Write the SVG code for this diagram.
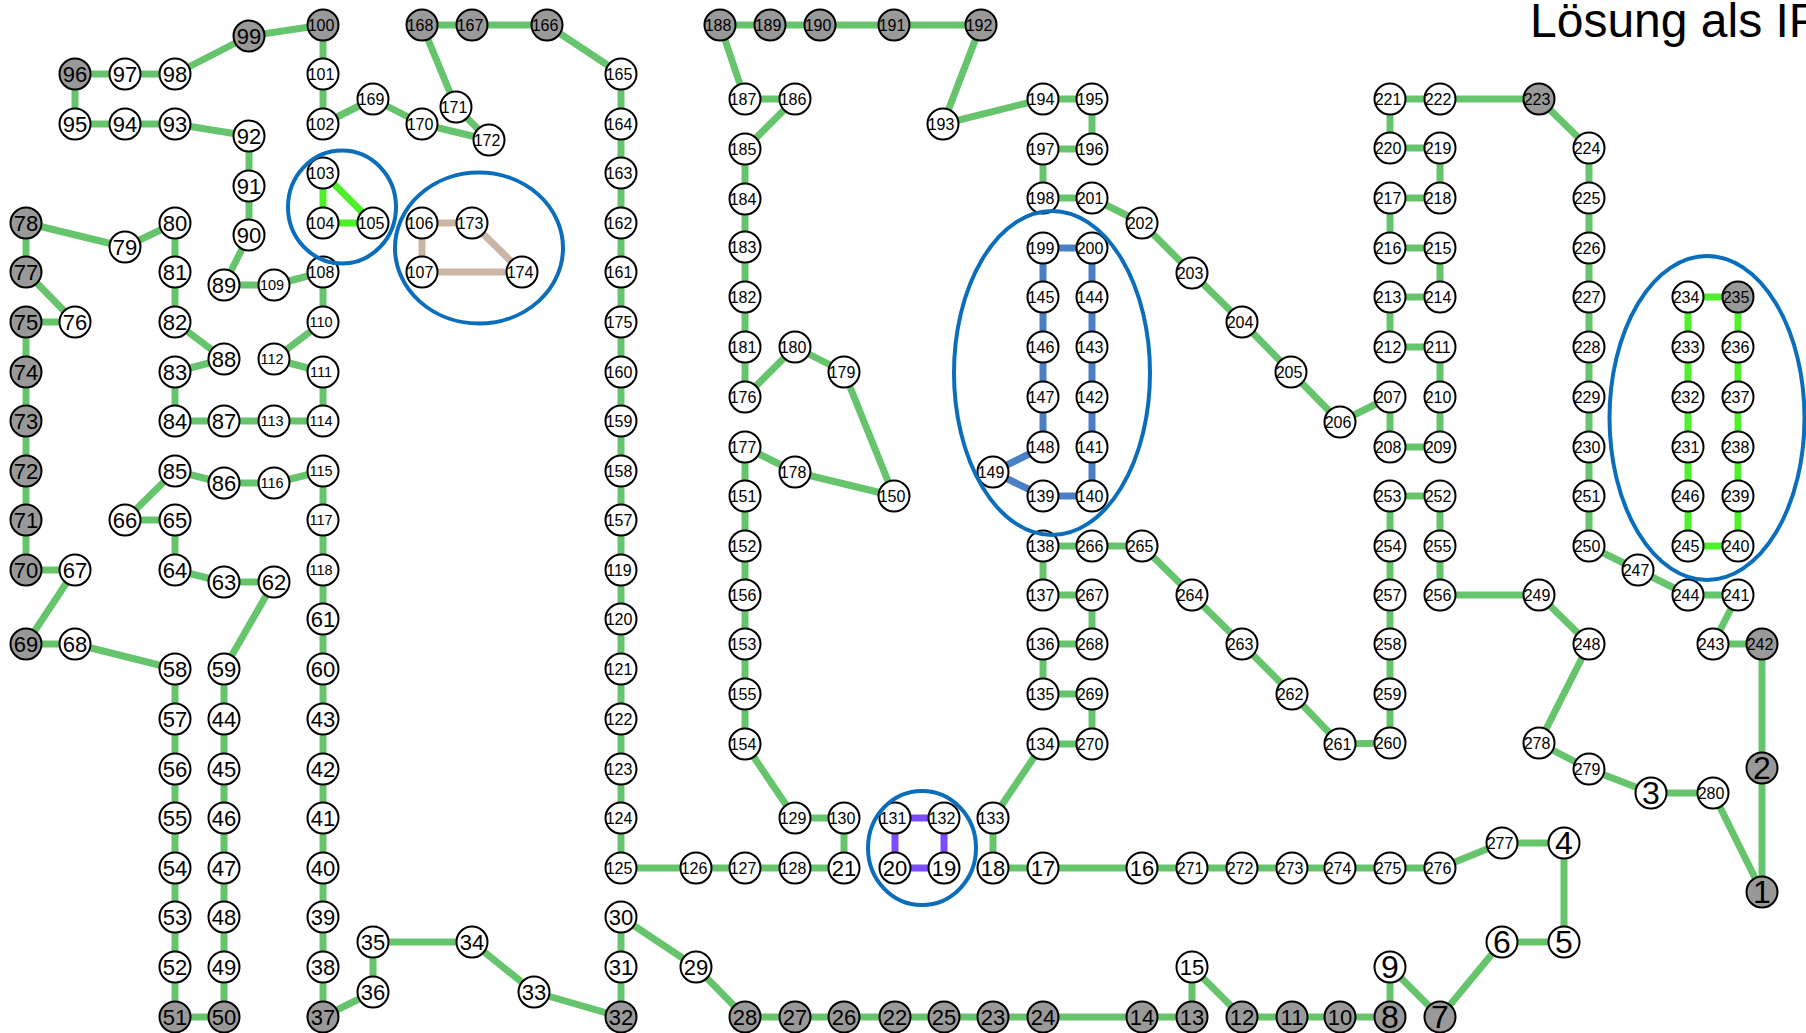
<svg xmlns="http://www.w3.org/2000/svg" width="1806" height="1033" viewBox="0 0 1806 1033">
<style>
.e{fill:none;stroke:#66c56c;stroke-width:7;stroke-linejoin:round;stroke-linecap:round}
.eb{stroke:#4b7fc5}
.ep{stroke:#7b4dff}
.ebg{stroke:#4df02b}
.ebe{stroke:#c9b6a6}
.node circle{fill:#fff;stroke:#000;stroke-width:2}
.node.gr circle{fill:#999}
text{font-family:"Liberation Sans",Arial,sans-serif;text-anchor:middle;dominant-baseline:central;fill:#000}
.s1 text{font-size:32px}.s2 text{font-size:22px}.s3 text{font-size:16px}.s4 text{font-size:14.5px}
.ell{fill:none;stroke:#0a6ebd;stroke-width:4}
.title{font-size:48px;text-anchor:start;dominant-baseline:auto}
</style>
<rect width="1806" height="1033" fill="#fff"/>
<text class="title" x="1530" y="37">Lösung als IP</text>
<g id="connectors">
<polyline class="e" points="1762,892 1762,768 1762,644 1713,644 1738,595 1688,595 1638,570 1589,546 1589,496 1589,447 1589,397 1589,347 1589,297 1589,248 1589,198 1589,148 1539,99 1440,99 1390,99 1390,148 1440,148 1440,198 1390,198 1390,248 1440,248 1440,297 1390,297 1390,347 1440,347 1440,397 1440,447 1390,447 1390,397 1340,422 1291,372 1242,322 1192,273 1142,223 1092,198 1043,198 1043,149 1092,149 1092,99 1043,99 943,124 981,25 894,25 820,25 770,25 720,25 745,99 795,99 745,149 745,199 745,247 745,297 745,347 745,397 795,347 844,372 894,496 795,472 745,447 745,496 745,546 745,595 745,644 745,694 745,744 795,818 844,818 844,868 795,868 745,868 696,868 621,868 621,818 621,769 621,719 621,669 621,619 621,570 621,520 621,471 621,421 621,372 621,322 621,272 621,223 621,173 621,124 621,74 547,25 472,25 422,25 456,107 489,140 422,124 373,99 323,124 323,74 323,25 249,36 175,74 125,74 75,74 75,124 125,124 175,124 249,136 249,186 249,235 224,285 274,285 323,272 323,322 274,359 323,372 323,421 274,421 224,421 175,421 175,372 224,359 175,322 175,272 175,223 125,247 26,223 26,272 75,322 26,322 26,372 26,421 26,471 26,520 26,570 75,570 26,644 75,644 175,669 175,719 175,769 175,818 175,868 175,917 175,967 175,1017 224,1017 224,967 224,917 224,868 224,818 224,769 224,719 224,669 274,582 224,582 175,570 175,520 125,520 175,471 224,483 274,483 323,471 323,520 323,570 323,619 323,669 323,719 323,769 323,818 323,868 323,917 323,967 323,1017 373,992 373,942 472,942 534,992 621,1017 621,967 621,917 696,967 745,1017 795,1017 844,1017 895,1017 944,1017 993,1017 1043,1017 1142,1017 1192,1017 1192,967 1242,1017 1292,1017 1340,1017 1390,1017 1390,967 1440,1017 1502,942 1564,942 1564,843 1502,843 1440,868 1390,868 1340,868 1292,868 1242,868 1192,868 1142,868 1043,868 993,868 993,818 1043,744 1092,744 1092,694 1043,694 1043,644 1092,644 1092,595 1043,595 1043,546 1092,546 1142,546 1192,595 1242,644 1292,694 1340,744 1390,743 1390,694 1390,644 1390,595 1390,546 1390,496 1440,496 1440,546 1440,595 1539,595 1589,644 1539,743 1589,769 1651,793 1713,793 1762,892"/>
<polygon class="e ebg" points="323,173 323,223 373,223"/>
<polygon class="e ebe" points="422,223 472,223 522,272 422,272"/>
<polygon class="e eb" points="1043,248 1092,248 1092,297 1092,347 1092,397 1092,447 1092,496 1043,496 993,472 1043,447 1043,397 1043,347 1043,297"/>
<polygon class="e ep" points="895,818 944,818 944,868 895,868"/>
<polygon class="e ebg" points="1688,297 1738,297 1738,347 1738,397 1738,447 1738,496 1738,546 1688,546 1688,496 1688,447 1688,397 1688,347"/>
</g>
<g id="nodes">
<g id="n1" class="node gr s1"><circle cx="1762" cy="892" r="15.5"/><text x="1762" y="892">1</text></g>
<g id="n2" class="node gr s1"><circle cx="1762" cy="768" r="15.5"/><text x="1762" y="768">2</text></g>
<g id="n3" class="node s1"><circle cx="1651" cy="793" r="15.5"/><text x="1651" y="793">3</text></g>
<g id="n4" class="node s1"><circle cx="1564" cy="843" r="15.5"/><text x="1564" y="843">4</text></g>
<g id="n5" class="node s1"><circle cx="1564" cy="942" r="15.5"/><text x="1564" y="942">5</text></g>
<g id="n6" class="node s1"><circle cx="1502" cy="942" r="15.5"/><text x="1502" y="942">6</text></g>
<g id="n7" class="node gr s1"><circle cx="1440" cy="1017" r="15.5"/><text x="1440" y="1017">7</text></g>
<g id="n8" class="node gr s1"><circle cx="1390" cy="1017" r="15.5"/><text x="1390" y="1017">8</text></g>
<g id="n9" class="node s1"><circle cx="1390" cy="967" r="15.5"/><text x="1390" y="967">9</text></g>
<g id="n10" class="node gr s2"><circle cx="1340" cy="1017" r="15.5"/><text x="1340" y="1017">10</text></g>
<g id="n11" class="node gr s2"><circle cx="1292" cy="1017" r="15.5"/><text x="1292" y="1017">11</text></g>
<g id="n12" class="node gr s2"><circle cx="1242" cy="1017" r="15.5"/><text x="1242" y="1017">12</text></g>
<g id="n13" class="node gr s2"><circle cx="1192" cy="1017" r="15.5"/><text x="1192" y="1017">13</text></g>
<g id="n14" class="node gr s2"><circle cx="1142" cy="1017" r="15.5"/><text x="1142" y="1017">14</text></g>
<g id="n15" class="node s2"><circle cx="1192" cy="967" r="15.5"/><text x="1192" y="967">15</text></g>
<g id="n16" class="node s2"><circle cx="1142" cy="868" r="15.5"/><text x="1142" y="868">16</text></g>
<g id="n17" class="node s2"><circle cx="1043" cy="868" r="15.5"/><text x="1043" y="868">17</text></g>
<g id="n18" class="node s2"><circle cx="993" cy="868" r="15.5"/><text x="993" y="868">18</text></g>
<g id="n19" class="node s2"><circle cx="944" cy="868" r="15.5"/><text x="944" y="868">19</text></g>
<g id="n20" class="node s2"><circle cx="895" cy="868" r="15.5"/><text x="895" y="868">20</text></g>
<g id="n21" class="node s2"><circle cx="844" cy="868" r="15.5"/><text x="844" y="868">21</text></g>
<g id="n22" class="node gr s2"><circle cx="895" cy="1017" r="15.5"/><text x="895" y="1017">22</text></g>
<g id="n23" class="node gr s2"><circle cx="993" cy="1017" r="15.5"/><text x="993" y="1017">23</text></g>
<g id="n24" class="node gr s2"><circle cx="1043" cy="1017" r="15.5"/><text x="1043" y="1017">24</text></g>
<g id="n25" class="node gr s2"><circle cx="944" cy="1017" r="15.5"/><text x="944" y="1017">25</text></g>
<g id="n26" class="node gr s2"><circle cx="844" cy="1017" r="15.5"/><text x="844" y="1017">26</text></g>
<g id="n27" class="node gr s2"><circle cx="795" cy="1017" r="15.5"/><text x="795" y="1017">27</text></g>
<g id="n28" class="node gr s2"><circle cx="745" cy="1017" r="15.5"/><text x="745" y="1017">28</text></g>
<g id="n29" class="node s2"><circle cx="696" cy="967" r="15.5"/><text x="696" y="967">29</text></g>
<g id="n30" class="node s2"><circle cx="621" cy="917" r="15.5"/><text x="621" y="917">30</text></g>
<g id="n31" class="node s2"><circle cx="621" cy="967" r="15.5"/><text x="621" y="967">31</text></g>
<g id="n32" class="node gr s2"><circle cx="621" cy="1017" r="15.5"/><text x="621" y="1017">32</text></g>
<g id="n33" class="node s2"><circle cx="534" cy="992" r="15.5"/><text x="534" y="992">33</text></g>
<g id="n34" class="node s2"><circle cx="472" cy="942" r="15.5"/><text x="472" y="942">34</text></g>
<g id="n35" class="node s2"><circle cx="373" cy="942" r="15.5"/><text x="373" y="942">35</text></g>
<g id="n36" class="node s2"><circle cx="373" cy="992" r="15.5"/><text x="373" y="992">36</text></g>
<g id="n37" class="node gr s2"><circle cx="323" cy="1017" r="15.5"/><text x="323" y="1017">37</text></g>
<g id="n38" class="node s2"><circle cx="323" cy="967" r="15.5"/><text x="323" y="967">38</text></g>
<g id="n39" class="node s2"><circle cx="323" cy="917" r="15.5"/><text x="323" y="917">39</text></g>
<g id="n40" class="node s2"><circle cx="323" cy="868" r="15.5"/><text x="323" y="868">40</text></g>
<g id="n41" class="node s2"><circle cx="323" cy="818" r="15.5"/><text x="323" y="818">41</text></g>
<g id="n42" class="node s2"><circle cx="323" cy="769" r="15.5"/><text x="323" y="769">42</text></g>
<g id="n43" class="node s2"><circle cx="323" cy="719" r="15.5"/><text x="323" y="719">43</text></g>
<g id="n44" class="node s2"><circle cx="224" cy="719" r="15.5"/><text x="224" y="719">44</text></g>
<g id="n45" class="node s2"><circle cx="224" cy="769" r="15.5"/><text x="224" y="769">45</text></g>
<g id="n46" class="node s2"><circle cx="224" cy="818" r="15.5"/><text x="224" y="818">46</text></g>
<g id="n47" class="node s2"><circle cx="224" cy="868" r="15.5"/><text x="224" y="868">47</text></g>
<g id="n48" class="node s2"><circle cx="224" cy="917" r="15.5"/><text x="224" y="917">48</text></g>
<g id="n49" class="node s2"><circle cx="224" cy="967" r="15.5"/><text x="224" y="967">49</text></g>
<g id="n50" class="node gr s2"><circle cx="224" cy="1017" r="15.5"/><text x="224" y="1017">50</text></g>
<g id="n51" class="node gr s2"><circle cx="175" cy="1017" r="15.5"/><text x="175" y="1017">51</text></g>
<g id="n52" class="node s2"><circle cx="175" cy="967" r="15.5"/><text x="175" y="967">52</text></g>
<g id="n53" class="node s2"><circle cx="175" cy="917" r="15.5"/><text x="175" y="917">53</text></g>
<g id="n54" class="node s2"><circle cx="175" cy="868" r="15.5"/><text x="175" y="868">54</text></g>
<g id="n55" class="node s2"><circle cx="175" cy="818" r="15.5"/><text x="175" y="818">55</text></g>
<g id="n56" class="node s2"><circle cx="175" cy="769" r="15.5"/><text x="175" y="769">56</text></g>
<g id="n57" class="node s2"><circle cx="175" cy="719" r="15.5"/><text x="175" y="719">57</text></g>
<g id="n58" class="node s2"><circle cx="175" cy="669" r="15.5"/><text x="175" y="669">58</text></g>
<g id="n59" class="node s2"><circle cx="224" cy="669" r="15.5"/><text x="224" y="669">59</text></g>
<g id="n60" class="node s2"><circle cx="323" cy="669" r="15.5"/><text x="323" y="669">60</text></g>
<g id="n61" class="node s2"><circle cx="323" cy="619" r="15.5"/><text x="323" y="619">61</text></g>
<g id="n62" class="node s2"><circle cx="274" cy="582" r="15.5"/><text x="274" y="582">62</text></g>
<g id="n63" class="node s2"><circle cx="224" cy="582" r="15.5"/><text x="224" y="582">63</text></g>
<g id="n64" class="node s2"><circle cx="175" cy="570" r="15.5"/><text x="175" y="570">64</text></g>
<g id="n65" class="node s2"><circle cx="175" cy="520" r="15.5"/><text x="175" y="520">65</text></g>
<g id="n66" class="node s2"><circle cx="125" cy="520" r="15.5"/><text x="125" y="520">66</text></g>
<g id="n67" class="node s2"><circle cx="75" cy="570" r="15.5"/><text x="75" y="570">67</text></g>
<g id="n68" class="node s2"><circle cx="75" cy="644" r="15.5"/><text x="75" y="644">68</text></g>
<g id="n69" class="node gr s2"><circle cx="26" cy="644" r="15.5"/><text x="26" y="644">69</text></g>
<g id="n70" class="node gr s2"><circle cx="26" cy="570" r="15.5"/><text x="26" y="570">70</text></g>
<g id="n71" class="node gr s2"><circle cx="26" cy="520" r="15.5"/><text x="26" y="520">71</text></g>
<g id="n72" class="node gr s2"><circle cx="26" cy="471" r="15.5"/><text x="26" y="471">72</text></g>
<g id="n73" class="node gr s2"><circle cx="26" cy="421" r="15.5"/><text x="26" y="421">73</text></g>
<g id="n74" class="node gr s2"><circle cx="26" cy="372" r="15.5"/><text x="26" y="372">74</text></g>
<g id="n75" class="node gr s2"><circle cx="26" cy="322" r="15.5"/><text x="26" y="322">75</text></g>
<g id="n76" class="node s2"><circle cx="75" cy="322" r="15.5"/><text x="75" y="322">76</text></g>
<g id="n77" class="node gr s2"><circle cx="26" cy="272" r="15.5"/><text x="26" y="272">77</text></g>
<g id="n78" class="node gr s2"><circle cx="26" cy="223" r="15.5"/><text x="26" y="223">78</text></g>
<g id="n79" class="node s2"><circle cx="125" cy="247" r="15.5"/><text x="125" y="247">79</text></g>
<g id="n80" class="node s2"><circle cx="175" cy="223" r="15.5"/><text x="175" y="223">80</text></g>
<g id="n81" class="node s2"><circle cx="175" cy="272" r="15.5"/><text x="175" y="272">81</text></g>
<g id="n82" class="node s2"><circle cx="175" cy="322" r="15.5"/><text x="175" y="322">82</text></g>
<g id="n83" class="node s2"><circle cx="175" cy="372" r="15.5"/><text x="175" y="372">83</text></g>
<g id="n84" class="node s2"><circle cx="175" cy="421" r="15.5"/><text x="175" y="421">84</text></g>
<g id="n85" class="node s2"><circle cx="175" cy="471" r="15.5"/><text x="175" y="471">85</text></g>
<g id="n86" class="node s2"><circle cx="224" cy="483" r="15.5"/><text x="224" y="483">86</text></g>
<g id="n87" class="node s2"><circle cx="224" cy="421" r="15.5"/><text x="224" y="421">87</text></g>
<g id="n88" class="node s2"><circle cx="224" cy="359" r="15.5"/><text x="224" y="359">88</text></g>
<g id="n89" class="node s2"><circle cx="224" cy="285" r="15.5"/><text x="224" y="285">89</text></g>
<g id="n90" class="node s2"><circle cx="249" cy="235" r="15.5"/><text x="249" y="235">90</text></g>
<g id="n91" class="node s2"><circle cx="249" cy="186" r="15.5"/><text x="249" y="186">91</text></g>
<g id="n92" class="node s2"><circle cx="249" cy="136" r="15.5"/><text x="249" y="136">92</text></g>
<g id="n93" class="node s2"><circle cx="175" cy="124" r="15.5"/><text x="175" y="124">93</text></g>
<g id="n94" class="node s2"><circle cx="125" cy="124" r="15.5"/><text x="125" y="124">94</text></g>
<g id="n95" class="node s2"><circle cx="75" cy="124" r="15.5"/><text x="75" y="124">95</text></g>
<g id="n96" class="node gr s2"><circle cx="75" cy="74" r="15.5"/><text x="75" y="74">96</text></g>
<g id="n97" class="node s2"><circle cx="125" cy="74" r="15.5"/><text x="125" y="74">97</text></g>
<g id="n98" class="node s2"><circle cx="175" cy="74" r="15.5"/><text x="175" y="74">98</text></g>
<g id="n99" class="node gr s2"><circle cx="249" cy="36" r="15.5"/><text x="249" y="36">99</text></g>
<g id="n100" class="node gr s3"><circle cx="323" cy="25" r="15.5"/><text x="321" y="25">100</text></g>
<g id="n101" class="node s3"><circle cx="323" cy="74" r="15.5"/><text x="321" y="74">101</text></g>
<g id="n102" class="node s3"><circle cx="323" cy="124" r="15.5"/><text x="321" y="124">102</text></g>
<g id="n103" class="node s3"><circle cx="323" cy="173" r="15.5"/><text x="321" y="173">103</text></g>
<g id="n104" class="node s3"><circle cx="323" cy="223" r="15.5"/><text x="321" y="223">104</text></g>
<g id="n105" class="node s3"><circle cx="373" cy="223" r="15.5"/><text x="371" y="223">105</text></g>
<g id="n106" class="node s3"><circle cx="422" cy="223" r="15.5"/><text x="420" y="223">106</text></g>
<g id="n107" class="node s3"><circle cx="422" cy="272" r="15.5"/><text x="420" y="272">107</text></g>
<g id="n108" class="node s3"><circle cx="323" cy="272" r="15.5"/><text x="321" y="272">108</text></g>
<g id="n109" class="node s4"><circle cx="274" cy="285" r="15.5"/><text x="272" y="285">109</text></g>
<g id="n110" class="node s4"><circle cx="323" cy="322" r="15.5"/><text x="321" y="322">110</text></g>
<g id="n111" class="node s4"><circle cx="323" cy="372" r="15.5"/><text x="321" y="372">111</text></g>
<g id="n112" class="node s4"><circle cx="274" cy="359" r="15.5"/><text x="272" y="359">112</text></g>
<g id="n113" class="node s4"><circle cx="274" cy="421" r="15.5"/><text x="272" y="421">113</text></g>
<g id="n114" class="node s4"><circle cx="323" cy="421" r="15.5"/><text x="321" y="421">114</text></g>
<g id="n115" class="node s4"><circle cx="323" cy="471" r="15.5"/><text x="321" y="471">115</text></g>
<g id="n116" class="node s4"><circle cx="274" cy="483" r="15.5"/><text x="272" y="483">116</text></g>
<g id="n117" class="node s4"><circle cx="323" cy="520" r="15.5"/><text x="321" y="520">117</text></g>
<g id="n118" class="node s4"><circle cx="323" cy="570" r="15.5"/><text x="321" y="570">118</text></g>
<g id="n119" class="node s3"><circle cx="621" cy="570" r="15.5"/><text x="619" y="570">119</text></g>
<g id="n120" class="node s3"><circle cx="621" cy="619" r="15.5"/><text x="619" y="619">120</text></g>
<g id="n121" class="node s3"><circle cx="621" cy="669" r="15.5"/><text x="619" y="669">121</text></g>
<g id="n122" class="node s3"><circle cx="621" cy="719" r="15.5"/><text x="619" y="719">122</text></g>
<g id="n123" class="node s3"><circle cx="621" cy="769" r="15.5"/><text x="619" y="769">123</text></g>
<g id="n124" class="node s3"><circle cx="621" cy="818" r="15.5"/><text x="619" y="818">124</text></g>
<g id="n125" class="node s3"><circle cx="621" cy="868" r="15.5"/><text x="619" y="868">125</text></g>
<g id="n126" class="node s3"><circle cx="696" cy="868" r="15.5"/><text x="694" y="868">126</text></g>
<g id="n127" class="node s3"><circle cx="745" cy="868" r="15.5"/><text x="743" y="868">127</text></g>
<g id="n128" class="node s3"><circle cx="795" cy="868" r="15.5"/><text x="793" y="868">128</text></g>
<g id="n129" class="node s3"><circle cx="795" cy="818" r="15.5"/><text x="793" y="818">129</text></g>
<g id="n130" class="node s3"><circle cx="844" cy="818" r="15.5"/><text x="842" y="818">130</text></g>
<g id="n131" class="node s3"><circle cx="895" cy="818" r="15.5"/><text x="893" y="818">131</text></g>
<g id="n132" class="node s3"><circle cx="944" cy="818" r="15.5"/><text x="942" y="818">132</text></g>
<g id="n133" class="node s3"><circle cx="993" cy="818" r="15.5"/><text x="991" y="818">133</text></g>
<g id="n134" class="node s3"><circle cx="1043" cy="744" r="15.5"/><text x="1041" y="744">134</text></g>
<g id="n135" class="node s3"><circle cx="1043" cy="694" r="15.5"/><text x="1041" y="694">135</text></g>
<g id="n136" class="node s3"><circle cx="1043" cy="644" r="15.5"/><text x="1041" y="644">136</text></g>
<g id="n137" class="node s3"><circle cx="1043" cy="595" r="15.5"/><text x="1041" y="595">137</text></g>
<g id="n138" class="node s3"><circle cx="1043" cy="546" r="15.5"/><text x="1041" y="546">138</text></g>
<g id="n139" class="node s3"><circle cx="1043" cy="496" r="15.5"/><text x="1041" y="496">139</text></g>
<g id="n140" class="node s3"><circle cx="1092" cy="496" r="15.5"/><text x="1090" y="496">140</text></g>
<g id="n141" class="node s3"><circle cx="1092" cy="447" r="15.5"/><text x="1090" y="447">141</text></g>
<g id="n142" class="node s3"><circle cx="1092" cy="397" r="15.5"/><text x="1090" y="397">142</text></g>
<g id="n143" class="node s3"><circle cx="1092" cy="347" r="15.5"/><text x="1090" y="347">143</text></g>
<g id="n144" class="node s3"><circle cx="1092" cy="297" r="15.5"/><text x="1090" y="297">144</text></g>
<g id="n145" class="node s3"><circle cx="1043" cy="297" r="15.5"/><text x="1041" y="297">145</text></g>
<g id="n146" class="node s3"><circle cx="1043" cy="347" r="15.5"/><text x="1041" y="347">146</text></g>
<g id="n147" class="node s3"><circle cx="1043" cy="397" r="15.5"/><text x="1041" y="397">147</text></g>
<g id="n148" class="node s3"><circle cx="1043" cy="447" r="15.5"/><text x="1041" y="447">148</text></g>
<g id="n149" class="node s3"><circle cx="993" cy="472" r="15.5"/><text x="991" y="472">149</text></g>
<g id="n150" class="node s3"><circle cx="894" cy="496" r="15.5"/><text x="892" y="496">150</text></g>
<g id="n151" class="node s3"><circle cx="745" cy="496" r="15.5"/><text x="743" y="496">151</text></g>
<g id="n152" class="node s3"><circle cx="745" cy="546" r="15.5"/><text x="743" y="546">152</text></g>
<g id="n153" class="node s3"><circle cx="745" cy="644" r="15.5"/><text x="743" y="644">153</text></g>
<g id="n154" class="node s3"><circle cx="745" cy="744" r="15.5"/><text x="743" y="744">154</text></g>
<g id="n155" class="node s3"><circle cx="745" cy="694" r="15.5"/><text x="743" y="694">155</text></g>
<g id="n156" class="node s3"><circle cx="745" cy="595" r="15.5"/><text x="743" y="595">156</text></g>
<g id="n157" class="node s3"><circle cx="621" cy="520" r="15.5"/><text x="619" y="520">157</text></g>
<g id="n158" class="node s3"><circle cx="621" cy="471" r="15.5"/><text x="619" y="471">158</text></g>
<g id="n159" class="node s3"><circle cx="621" cy="421" r="15.5"/><text x="619" y="421">159</text></g>
<g id="n160" class="node s3"><circle cx="621" cy="372" r="15.5"/><text x="619" y="372">160</text></g>
<g id="n161" class="node s3"><circle cx="621" cy="272" r="15.5"/><text x="619" y="272">161</text></g>
<g id="n162" class="node s3"><circle cx="621" cy="223" r="15.5"/><text x="619" y="223">162</text></g>
<g id="n163" class="node s3"><circle cx="621" cy="173" r="15.5"/><text x="619" y="173">163</text></g>
<g id="n164" class="node s3"><circle cx="621" cy="124" r="15.5"/><text x="619" y="124">164</text></g>
<g id="n165" class="node s3"><circle cx="621" cy="74" r="15.5"/><text x="619" y="74">165</text></g>
<g id="n166" class="node gr s3"><circle cx="547" cy="25" r="15.5"/><text x="545" y="25">166</text></g>
<g id="n167" class="node gr s3"><circle cx="472" cy="25" r="15.5"/><text x="470" y="25">167</text></g>
<g id="n168" class="node gr s3"><circle cx="422" cy="25" r="15.5"/><text x="420" y="25">168</text></g>
<g id="n169" class="node s3"><circle cx="373" cy="99" r="15.5"/><text x="371" y="99">169</text></g>
<g id="n170" class="node s3"><circle cx="422" cy="124" r="15.5"/><text x="420" y="124">170</text></g>
<g id="n171" class="node s3"><circle cx="456" cy="107" r="15.5"/><text x="454" y="107">171</text></g>
<g id="n172" class="node s3"><circle cx="489" cy="140" r="15.5"/><text x="487" y="140">172</text></g>
<g id="n173" class="node s3"><circle cx="472" cy="223" r="15.5"/><text x="470" y="223">173</text></g>
<g id="n174" class="node s3"><circle cx="522" cy="272" r="15.5"/><text x="520" y="272">174</text></g>
<g id="n175" class="node s3"><circle cx="621" cy="322" r="15.5"/><text x="619" y="322">175</text></g>
<g id="n176" class="node s3"><circle cx="745" cy="397" r="15.5"/><text x="743" y="397">176</text></g>
<g id="n177" class="node s3"><circle cx="745" cy="447" r="15.5"/><text x="743" y="447">177</text></g>
<g id="n178" class="node s3"><circle cx="795" cy="472" r="15.5"/><text x="793" y="472">178</text></g>
<g id="n179" class="node s3"><circle cx="844" cy="372" r="15.5"/><text x="842" y="372">179</text></g>
<g id="n180" class="node s3"><circle cx="795" cy="347" r="15.5"/><text x="793" y="347">180</text></g>
<g id="n181" class="node s3"><circle cx="745" cy="347" r="15.5"/><text x="743" y="347">181</text></g>
<g id="n182" class="node s3"><circle cx="745" cy="297" r="15.5"/><text x="743" y="297">182</text></g>
<g id="n183" class="node s3"><circle cx="745" cy="247" r="15.5"/><text x="743" y="247">183</text></g>
<g id="n184" class="node s3"><circle cx="745" cy="199" r="15.5"/><text x="743" y="199">184</text></g>
<g id="n185" class="node s3"><circle cx="745" cy="149" r="15.5"/><text x="743" y="149">185</text></g>
<g id="n186" class="node s3"><circle cx="795" cy="99" r="15.5"/><text x="793" y="99">186</text></g>
<g id="n187" class="node s3"><circle cx="745" cy="99" r="15.5"/><text x="743" y="99">187</text></g>
<g id="n188" class="node gr s3"><circle cx="720" cy="25" r="15.5"/><text x="718" y="25">188</text></g>
<g id="n189" class="node gr s3"><circle cx="770" cy="25" r="15.5"/><text x="768" y="25">189</text></g>
<g id="n190" class="node gr s3"><circle cx="820" cy="25" r="15.5"/><text x="818" y="25">190</text></g>
<g id="n191" class="node gr s3"><circle cx="894" cy="25" r="15.5"/><text x="892" y="25">191</text></g>
<g id="n192" class="node gr s3"><circle cx="981" cy="25" r="15.5"/><text x="979" y="25">192</text></g>
<g id="n193" class="node s3"><circle cx="943" cy="124" r="15.5"/><text x="941" y="124">193</text></g>
<g id="n194" class="node s3"><circle cx="1043" cy="99" r="15.5"/><text x="1041" y="99">194</text></g>
<g id="n195" class="node s3"><circle cx="1092" cy="99" r="15.5"/><text x="1090" y="99">195</text></g>
<g id="n196" class="node s3"><circle cx="1092" cy="149" r="15.5"/><text x="1090" y="149">196</text></g>
<g id="n197" class="node s3"><circle cx="1043" cy="149" r="15.5"/><text x="1041" y="149">197</text></g>
<g id="n198" class="node s3"><circle cx="1043" cy="198" r="15.5"/><text x="1041" y="198">198</text></g>
<g id="n199" class="node s3"><circle cx="1043" cy="248" r="15.5"/><text x="1041" y="248">199</text></g>
<g id="n200" class="node s3"><circle cx="1092" cy="248" r="15.5"/><text x="1090" y="248">200</text></g>
<g id="n201" class="node s3"><circle cx="1092" cy="198" r="15.5"/><text x="1090" y="198">201</text></g>
<g id="n202" class="node s3"><circle cx="1142" cy="223" r="15.5"/><text x="1140" y="223">202</text></g>
<g id="n203" class="node s3"><circle cx="1192" cy="273" r="15.5"/><text x="1190" y="273">203</text></g>
<g id="n204" class="node s3"><circle cx="1242" cy="322" r="15.5"/><text x="1240" y="322">204</text></g>
<g id="n205" class="node s3"><circle cx="1291" cy="372" r="15.5"/><text x="1289" y="372">205</text></g>
<g id="n206" class="node s3"><circle cx="1340" cy="422" r="15.5"/><text x="1338" y="422">206</text></g>
<g id="n207" class="node s3"><circle cx="1390" cy="397" r="15.5"/><text x="1388" y="397">207</text></g>
<g id="n208" class="node s3"><circle cx="1390" cy="447" r="15.5"/><text x="1388" y="447">208</text></g>
<g id="n209" class="node s3"><circle cx="1440" cy="447" r="15.5"/><text x="1438" y="447">209</text></g>
<g id="n210" class="node s3"><circle cx="1440" cy="397" r="15.5"/><text x="1438" y="397">210</text></g>
<g id="n211" class="node s3"><circle cx="1440" cy="347" r="15.5"/><text x="1438" y="347">211</text></g>
<g id="n212" class="node s3"><circle cx="1390" cy="347" r="15.5"/><text x="1388" y="347">212</text></g>
<g id="n213" class="node s3"><circle cx="1390" cy="297" r="15.5"/><text x="1388" y="297">213</text></g>
<g id="n214" class="node s3"><circle cx="1440" cy="297" r="15.5"/><text x="1438" y="297">214</text></g>
<g id="n215" class="node s3"><circle cx="1440" cy="248" r="15.5"/><text x="1438" y="248">215</text></g>
<g id="n216" class="node s3"><circle cx="1390" cy="248" r="15.5"/><text x="1388" y="248">216</text></g>
<g id="n217" class="node s3"><circle cx="1390" cy="198" r="15.5"/><text x="1388" y="198">217</text></g>
<g id="n218" class="node s3"><circle cx="1440" cy="198" r="15.5"/><text x="1438" y="198">218</text></g>
<g id="n219" class="node s3"><circle cx="1440" cy="148" r="15.5"/><text x="1438" y="148">219</text></g>
<g id="n220" class="node s3"><circle cx="1390" cy="148" r="15.5"/><text x="1388" y="148">220</text></g>
<g id="n221" class="node s3"><circle cx="1390" cy="99" r="15.5"/><text x="1388" y="99">221</text></g>
<g id="n222" class="node s3"><circle cx="1440" cy="99" r="15.5"/><text x="1438" y="99">222</text></g>
<g id="n223" class="node gr s3"><circle cx="1539" cy="99" r="15.5"/><text x="1537" y="99">223</text></g>
<g id="n224" class="node s3"><circle cx="1589" cy="148" r="15.5"/><text x="1587" y="148">224</text></g>
<g id="n225" class="node s3"><circle cx="1589" cy="198" r="15.5"/><text x="1587" y="198">225</text></g>
<g id="n226" class="node s3"><circle cx="1589" cy="248" r="15.5"/><text x="1587" y="248">226</text></g>
<g id="n227" class="node s3"><circle cx="1589" cy="297" r="15.5"/><text x="1587" y="297">227</text></g>
<g id="n228" class="node s3"><circle cx="1589" cy="347" r="15.5"/><text x="1587" y="347">228</text></g>
<g id="n229" class="node s3"><circle cx="1589" cy="397" r="15.5"/><text x="1587" y="397">229</text></g>
<g id="n230" class="node s3"><circle cx="1589" cy="447" r="15.5"/><text x="1587" y="447">230</text></g>
<g id="n231" class="node s3"><circle cx="1688" cy="447" r="15.5"/><text x="1686" y="447">231</text></g>
<g id="n232" class="node s3"><circle cx="1688" cy="397" r="15.5"/><text x="1686" y="397">232</text></g>
<g id="n233" class="node s3"><circle cx="1688" cy="347" r="15.5"/><text x="1686" y="347">233</text></g>
<g id="n234" class="node s3"><circle cx="1688" cy="297" r="15.5"/><text x="1686" y="297">234</text></g>
<g id="n235" class="node gr s3"><circle cx="1738" cy="297" r="15.5"/><text x="1736" y="297">235</text></g>
<g id="n236" class="node s3"><circle cx="1738" cy="347" r="15.5"/><text x="1736" y="347">236</text></g>
<g id="n237" class="node s3"><circle cx="1738" cy="397" r="15.5"/><text x="1736" y="397">237</text></g>
<g id="n238" class="node s3"><circle cx="1738" cy="447" r="15.5"/><text x="1736" y="447">238</text></g>
<g id="n239" class="node s3"><circle cx="1738" cy="496" r="15.5"/><text x="1736" y="496">239</text></g>
<g id="n240" class="node s3"><circle cx="1738" cy="546" r="15.5"/><text x="1736" y="546">240</text></g>
<g id="n241" class="node s3"><circle cx="1738" cy="595" r="15.5"/><text x="1736" y="595">241</text></g>
<g id="n242" class="node gr s3"><circle cx="1762" cy="644" r="15.5"/><text x="1760" y="644">242</text></g>
<g id="n243" class="node s3"><circle cx="1713" cy="644" r="15.5"/><text x="1711" y="644">243</text></g>
<g id="n244" class="node s3"><circle cx="1688" cy="595" r="15.5"/><text x="1686" y="595">244</text></g>
<g id="n245" class="node s3"><circle cx="1688" cy="546" r="15.5"/><text x="1686" y="546">245</text></g>
<g id="n246" class="node s3"><circle cx="1688" cy="496" r="15.5"/><text x="1686" y="496">246</text></g>
<g id="n247" class="node s3"><circle cx="1638" cy="570" r="15.5"/><text x="1636" y="570">247</text></g>
<g id="n248" class="node s3"><circle cx="1589" cy="644" r="15.5"/><text x="1587" y="644">248</text></g>
<g id="n249" class="node s3"><circle cx="1539" cy="595" r="15.5"/><text x="1537" y="595">249</text></g>
<g id="n250" class="node s3"><circle cx="1589" cy="546" r="15.5"/><text x="1587" y="546">250</text></g>
<g id="n251" class="node s3"><circle cx="1589" cy="496" r="15.5"/><text x="1587" y="496">251</text></g>
<g id="n252" class="node s3"><circle cx="1440" cy="496" r="15.5"/><text x="1438" y="496">252</text></g>
<g id="n253" class="node s3"><circle cx="1390" cy="496" r="15.5"/><text x="1388" y="496">253</text></g>
<g id="n254" class="node s3"><circle cx="1390" cy="546" r="15.5"/><text x="1388" y="546">254</text></g>
<g id="n255" class="node s3"><circle cx="1440" cy="546" r="15.5"/><text x="1438" y="546">255</text></g>
<g id="n256" class="node s3"><circle cx="1440" cy="595" r="15.5"/><text x="1438" y="595">256</text></g>
<g id="n257" class="node s3"><circle cx="1390" cy="595" r="15.5"/><text x="1388" y="595">257</text></g>
<g id="n258" class="node s3"><circle cx="1390" cy="644" r="15.5"/><text x="1388" y="644">258</text></g>
<g id="n259" class="node s3"><circle cx="1390" cy="694" r="15.5"/><text x="1388" y="694">259</text></g>
<g id="n260" class="node s3"><circle cx="1390" cy="743" r="15.5"/><text x="1388" y="743">260</text></g>
<g id="n261" class="node s3"><circle cx="1340" cy="744" r="15.5"/><text x="1338" y="744">261</text></g>
<g id="n262" class="node s3"><circle cx="1292" cy="694" r="15.5"/><text x="1290" y="694">262</text></g>
<g id="n263" class="node s3"><circle cx="1242" cy="644" r="15.5"/><text x="1240" y="644">263</text></g>
<g id="n264" class="node s3"><circle cx="1192" cy="595" r="15.5"/><text x="1190" y="595">264</text></g>
<g id="n265" class="node s3"><circle cx="1142" cy="546" r="15.5"/><text x="1140" y="546">265</text></g>
<g id="n266" class="node s3"><circle cx="1092" cy="546" r="15.5"/><text x="1090" y="546">266</text></g>
<g id="n267" class="node s3"><circle cx="1092" cy="595" r="15.5"/><text x="1090" y="595">267</text></g>
<g id="n268" class="node s3"><circle cx="1092" cy="644" r="15.5"/><text x="1090" y="644">268</text></g>
<g id="n269" class="node s3"><circle cx="1092" cy="694" r="15.5"/><text x="1090" y="694">269</text></g>
<g id="n270" class="node s3"><circle cx="1092" cy="744" r="15.5"/><text x="1090" y="744">270</text></g>
<g id="n271" class="node s3"><circle cx="1192" cy="868" r="15.5"/><text x="1190" y="868">271</text></g>
<g id="n272" class="node s3"><circle cx="1242" cy="868" r="15.5"/><text x="1240" y="868">272</text></g>
<g id="n273" class="node s3"><circle cx="1292" cy="868" r="15.5"/><text x="1290" y="868">273</text></g>
<g id="n274" class="node s3"><circle cx="1340" cy="868" r="15.5"/><text x="1338" y="868">274</text></g>
<g id="n275" class="node s3"><circle cx="1390" cy="868" r="15.5"/><text x="1388" y="868">275</text></g>
<g id="n276" class="node s3"><circle cx="1440" cy="868" r="15.5"/><text x="1438" y="868">276</text></g>
<g id="n277" class="node s3"><circle cx="1502" cy="843" r="15.5"/><text x="1500" y="843">277</text></g>
<g id="n278" class="node s3"><circle cx="1539" cy="743" r="15.5"/><text x="1537" y="743">278</text></g>
<g id="n279" class="node s3"><circle cx="1589" cy="769" r="15.5"/><text x="1587" y="769">279</text></g>
<g id="n280" class="node s3"><circle cx="1713" cy="793" r="15.5"/><text x="1711" y="793">280</text></g>
</g>
<g id="subtour-marks">
<ellipse class="ell" cx="342" cy="207" rx="54" ry="56.5"/>
<ellipse class="ell" cx="479" cy="248" rx="84" ry="75.5"/>
<ellipse class="ell" cx="1052" cy="373" rx="98" ry="162"/>
<ellipse class="ell" cx="1707" cy="418" rx="97.5" ry="162"/>
<ellipse class="ell" cx="922" cy="848" rx="54" ry="57"/>
</g>
</svg>
